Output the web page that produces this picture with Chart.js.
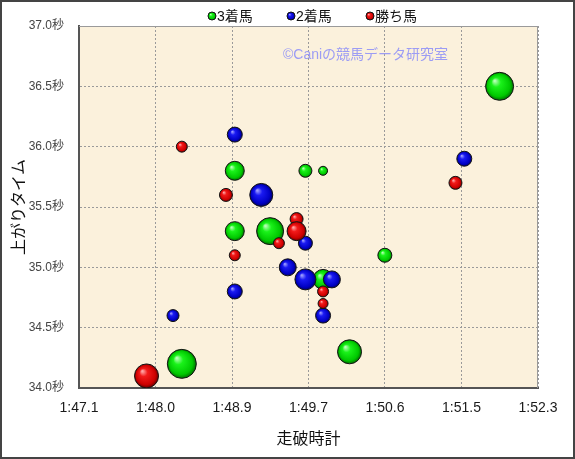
<!DOCTYPE html>
<html>
<head>
<meta charset="utf-8">
<script src="https://cdn.jsdelivr.net/npm/chart.js@4.4.0/dist/chart.umd.min.js"></script>
<style>
  html, body { margin: 0; padding: 0; background: #fff; }
  #wrap { width: 575px; height: 459px; position: relative; }
</style>
</head>
<body>
<div id="wrap"><canvas id="myBubbleChart"></canvas></div>
<script>
// Series: 走破時計 (seconds), 上がりタイム (seconds), bubble radius (px)
const seriesNames = ['3着馬', '2着馬', '勝ち馬'];

const thirdX = [111.9, 108.9, 109.7, 109.9, 108.9, 109.3, 110.6, 109.9, 110.2, 108.3];
const thirdY = [36.5, 35.8, 35.8, 35.8, 35.3, 35.3, 35.1, 34.9, 34.3, 34.2];
const thirdR = [14, 9.5, 6.5, 4.5, 9.5, 13.5, 7, 10, 12, 14.5];

const secondX = [108.9, 111.5, 109.2, 109.7, 109.5, 109.7, 110.0, 108.9, 109.9, 108.2];
const secondY = [36.1, 35.9, 35.6, 35.2, 35.0, 34.9, 34.9, 34.8, 34.6, 34.6];
const secondR = [7.5, 7.5, 11.5, 7, 8.5, 10.5, 8.5, 7.5, 7.5, 6];

const winnerX = [108.3, 111.4, 108.8, 109.6, 109.6, 109.4, 108.9, 109.9, 109.9, 107.9];
const winnerY = [36.0, 35.7, 35.6, 35.4, 35.3, 35.2, 35.1, 34.8, 34.7, 34.1];
const winnerR = [5.5, 6.5, 6.5, 6.5, 9.5, 5.5, 5.5, 5.5, 5, 12];

// Axes
const xMin = 107.135;
const xMax = 112.335;
const xTickLabels = ['1:47.1', '1:48.0', '1:48.9', '1:49.7', '1:50.6', '1:51.5', '1:52.3'];
const yTickValues = [34.0, 34.5, 35.0, 35.5, 36.0, 36.5, 37.0];
const yTickLabels = ['34.0秒', '34.5秒', '35.0秒', '35.5秒', '36.0秒', '36.5秒', '37.0秒'];

// sphere colours: highlight, bright, body, edge
const palettes = {
  green: ['#b4ffb4', '#1af21a', '#00c800', '#006e00'],
  blue:  ['#9a9aff', '#1a1af2', '#0000c4', '#00006a'],
  red:   ['#ffa4a4', '#f21a1a', '#cc0000', '#6a0000']
};

function sphereGradient(ctx, x, y, r, pal) {
  const g = ctx.createRadialGradient(x - r * 0.35, y - r * 0.4, r * 0.05, x, y, r);
  g.addColorStop(0, pal[0]);
  g.addColorStop(0.3, pal[1]);
  g.addColorStop(0.8, pal[2]);
  g.addColorStop(1, pal[3]);
  return g;
}

function sphereFill(pal) {
  return (c) => {
    const chart = c.chart;
    if (c.type !== 'data' || !c.raw || !chart.scales.x || !chart.scales.y) return pal[2];
    const x = chart.scales.x.getPixelForValue(c.raw.x);
    const y = chart.scales.y.getPixelForValue(c.raw.y);
    if (!isFinite(x) || !isFinite(y)) return pal[2];
    return sphereGradient(chart.ctx, x, y, c.raw.r, pal);
  };
}

const toPoints = (xs, ys, rs) => xs.map((x, i) => ({ x: x, y: ys[i], r: rs[i] }));

// dataset 0 is drawn on top, so winners come first
const data = {
  datasets: [
    { label: seriesNames[2], data: toPoints(winnerX, winnerY, winnerR), pal: palettes.red },
    { label: seriesNames[1], data: toPoints(secondX, secondY, secondR), pal: palettes.blue },
    { label: seriesNames[0], data: toPoints(thirdX, thirdY, thirdR), pal: palettes.green }
  ].map(d => ({
    label: d.label,
    data: d.data,
    backgroundColor: sphereFill(d.pal),
    borderColor: '#141414',
    borderWidth: 1,
    hoverRadius: 0,
    hoverBorderWidth: 1,
    pal: d.pal
  }))
};

const decor = {
  id: 'decor',
  beforeDraw(chart) {
    const { ctx, chartArea: a } = chart;
    ctx.save();
    ctx.fillStyle = '#ffffff';
    ctx.fillRect(0, 0, chart.width, chart.height);
    ctx.fillStyle = '#fbf1dc';
    ctx.fillRect(a.left, a.top, a.right - a.left, a.bottom - a.top);
    ctx.restore();
  },
  beforeDatasetsDraw(chart) {
    const { ctx, chartArea: a } = chart;
    ctx.save();
    // top / right frame of the plot
    ctx.strokeStyle = '#9a9a9a';
    ctx.lineWidth = 1;
    ctx.beginPath();
    ctx.moveTo(a.left, a.top + 0.5);
    ctx.lineTo(a.right - 0.5, a.top + 0.5);
    ctx.lineTo(a.right - 0.5, a.bottom);
    ctx.stroke();
    // watermark
    ctx.fillStyle = '#9c9cf4';
    ctx.font = "14px 'Liberation Sans', 'Noto Sans CJK JP', sans-serif";
    ctx.textBaseline = 'middle';
    ctx.textAlign = 'left';
    ctx.fillText('©Caniの競馬データ研究室', 283, 55);
    ctx.restore();
  },
  afterDraw(chart) {
    const { ctx } = chart;
    ctx.save();
    // legend: 3着馬, 2着馬, 勝ち馬
    const order = [2, 1, 0];
    const dotX = [212, 291, 370];
    ctx.font = "14px 'Liberation Sans', 'Noto Sans CJK JP', sans-serif";
    ctx.textBaseline = 'middle';
    ctx.textAlign = 'left';
    order.forEach((di, i) => {
      const ds = chart.data.datasets[di];
      const x = dotX[i], y = 16, r = 4;
      ctx.beginPath();
      ctx.arc(x, y, r, 0, Math.PI * 2);
      ctx.fillStyle = sphereGradient(ctx, x, y, r, ds.pal);
      ctx.fill();
      ctx.strokeStyle = '#141414';
      ctx.lineWidth = 1;
      ctx.stroke();
      ctx.fillStyle = '#111111';
      ctx.fillText(ds.label, x + 5, y + 1);
    });
    // outer frame
    ctx.strokeStyle = '#444444';
    ctx.lineWidth = 2;
    ctx.strokeRect(1, 1, chart.width - 2, chart.height - 2);
    ctx.restore();
  }
};

const config = {
  type: 'bubble',
  data: data,
  options: {
    responsive: true,
    maintainAspectRatio: false,
    animation: false,
    layout: { padding: { top: 26, right: 37, bottom: 0, left: 0 } },
    plugins: {
      legend: { display: false },
      tooltip: { enabled: false }
    },
    scales: {
      x: {
        type: 'linear',
        min: xMin,
        max: xMax,
        afterFit: (s) => { s.height = 71; },
        afterBuildTicks: (s) => {
          s.ticks = xTickLabels.map((_, i) => ({ value: xMin + i * (xMax - xMin) / (xTickLabels.length - 1) }));
        },
        ticks: {
          padding: 12,
          color: '#1a1a1a',
          font: { size: 14, family: "'Liberation Sans', sans-serif" },
          maxRotation: 0,
          autoSkip: false,
          callback: (v, i) => xTickLabels[i]
        },
        grid: { color: '#9a9a9a', drawTicks: false },
        border: { color: '#555555', width: 2, dash: [2, 2] },
        title: {
          display: true,
          text: '走破時計',
          color: '#111111',
          font: { size: 16, family: "'Noto Sans CJK JP', sans-serif" },
          padding: { top: 0, bottom: 11 }
        }
      },
      y: {
        type: 'linear',
        min: 34,
        max: 37,
        afterFit: (s) => { s.width = 79; },
        afterBuildTicks: (s) => {
          s.ticks = yTickValues.map(v => ({ value: v }));
        },
        ticks: {
          padding: 15,
          color: '#444444',
          font: { size: 12, family: "'Liberation Sans', 'Noto Sans CJK JP', sans-serif" },
          callback: (v, i) => yTickLabels[i]
        },
        grid: { color: '#9a9a9a', drawTicks: false },
        border: { color: '#555555', width: 2, dash: [2, 2] },
        title: {
          display: true,
          text: '上がりタイム',
          color: '#111111',
          font: { size: 16, family: "'Noto Sans CJK JP', sans-serif" },
          padding: { top: 8, bottom: 0 }
        }
      }
    }
  },
  plugins: [decor]
};

const myChart = new Chart(document.getElementById('myBubbleChart'), config);
</script>
</body>
</html>
